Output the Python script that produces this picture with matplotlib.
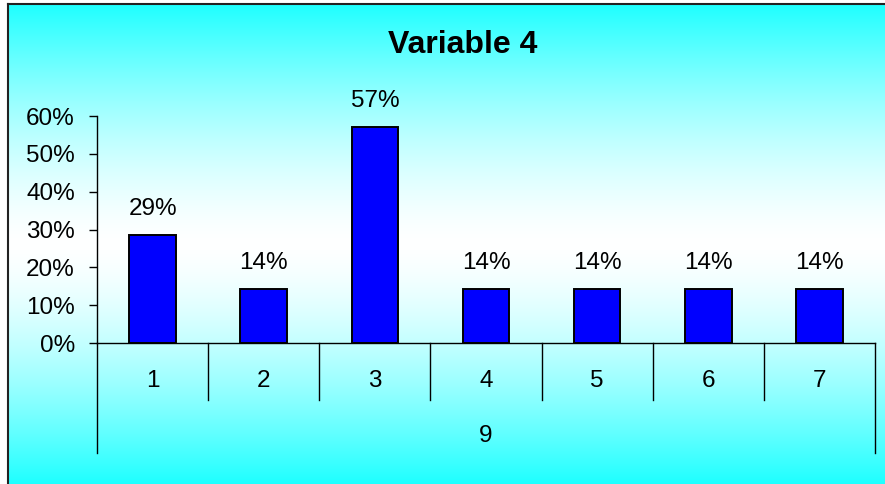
import numpy as np
import matplotlib
matplotlib.use('Agg')
import matplotlib.pyplot as plt
from matplotlib.transforms import blended_transform_factory

categories = ['1', '2', '3', '4', '5', '6', '7']
group_label = '9'
shares = [2 / 7, 1 / 7, 4 / 7, 1 / 7, 1 / 7, 1 / 7, 1 / 7]
yticks = [0, 0.1, 0.2, 0.3, 0.4, 0.5, 0.6]

plt.rcParams['font.family'] = ['Liberation Sans', 'DejaVu Sans']

W, H = 885, 484
fig = plt.figure(figsize=(W / 100, H / 100), dpi=100)
fig.patch.set_facecolor('white')

# cyan -> white -> cyan vertical gradient behind the chart
bg = fig.add_axes([8 / W, 0, 1 - 8 / W, 1 - 4 / H])
t = np.linspace(0, 1, 400)
d = np.abs(t - 0.5) / 0.5
light = 1 - 0.88 * d ** 1.5
grad = np.stack([light, np.ones_like(light), np.ones_like(light)], axis=-1)[:, None, :]
grad = np.repeat(grad, 2, axis=1)
bg.imshow(grad, aspect='auto', extent=[0, 1, 0, 1], origin='upper')
bg.set_xlim(0, 1)
bg.set_ylim(0, 1)
for s in ['right', 'bottom']:
    bg.spines[s].set_visible(False)
for s in ['left', 'top']:
    bg.spines[s].set_color('#222222')
    bg.spines[s].set_linewidth(1.5)
bg.set_xticks([])
bg.set_yticks([])

ax = fig.add_axes([97 / W, 1 - 343 / H, (875 - 97) / W, (343 - 116) / H])
ax.patch.set_visible(False)
x = np.arange(len(categories))
ax.bar(x, shares, width=0.42, color='#0000FF', edgecolor='black', linewidth=1.4)

for xi, v in zip(x, shares):
    ax.annotate(f'{v:.0%}', (xi, v), xytext=(0, 11), textcoords='offset points',
                ha='center', va='bottom', fontsize=17.5)

ax.set_xlim(-0.5, len(categories) - 0.5)
ax.set_ylim(0, 0.6)
ax.set_yticks(yticks)
ax.set_yticklabels([f'{v:.0%}' for v in yticks], fontsize=17.5)
ax.tick_params(axis='y', length=6, width=1, direction='out', pad=10)
ax.set_xticks([])
for s in ['top', 'right']:
    ax.spines[s].set_visible(False)
ax.spines['left'].set_linewidth(1)
ax.spines['bottom'].set_linewidth(1)

# category table below the axis
tr = blended_transform_factory(ax.transData, ax.transAxes)
ax_h = 343 - 116
for b in np.arange(-0.5, len(categories), 1.0):
    outer = b == -0.5 or b == len(categories) - 0.5
    depth = 110 if outer else 57
    ax.plot([b, b], [0, -depth / ax_h], transform=tr, color='black',
            lw=1, clip_on=False)
for xi, c in zip(x, categories):
    ax.text(xi, -38 / ax_h, c, transform=tr, ha='center', va='center', fontsize=17.5)
ax.text((len(categories) - 1) / 2, -93 / ax_h, group_label, transform=tr,
        ha='center', va='center', fontsize=17.5)

fig.text(463 / W, 1 - 45 / H, 'Variable 4', ha='center', va='center',
         fontsize=23, fontweight='bold')

fig.savefig('out.png', dpi=100, facecolor=fig.get_facecolor())
